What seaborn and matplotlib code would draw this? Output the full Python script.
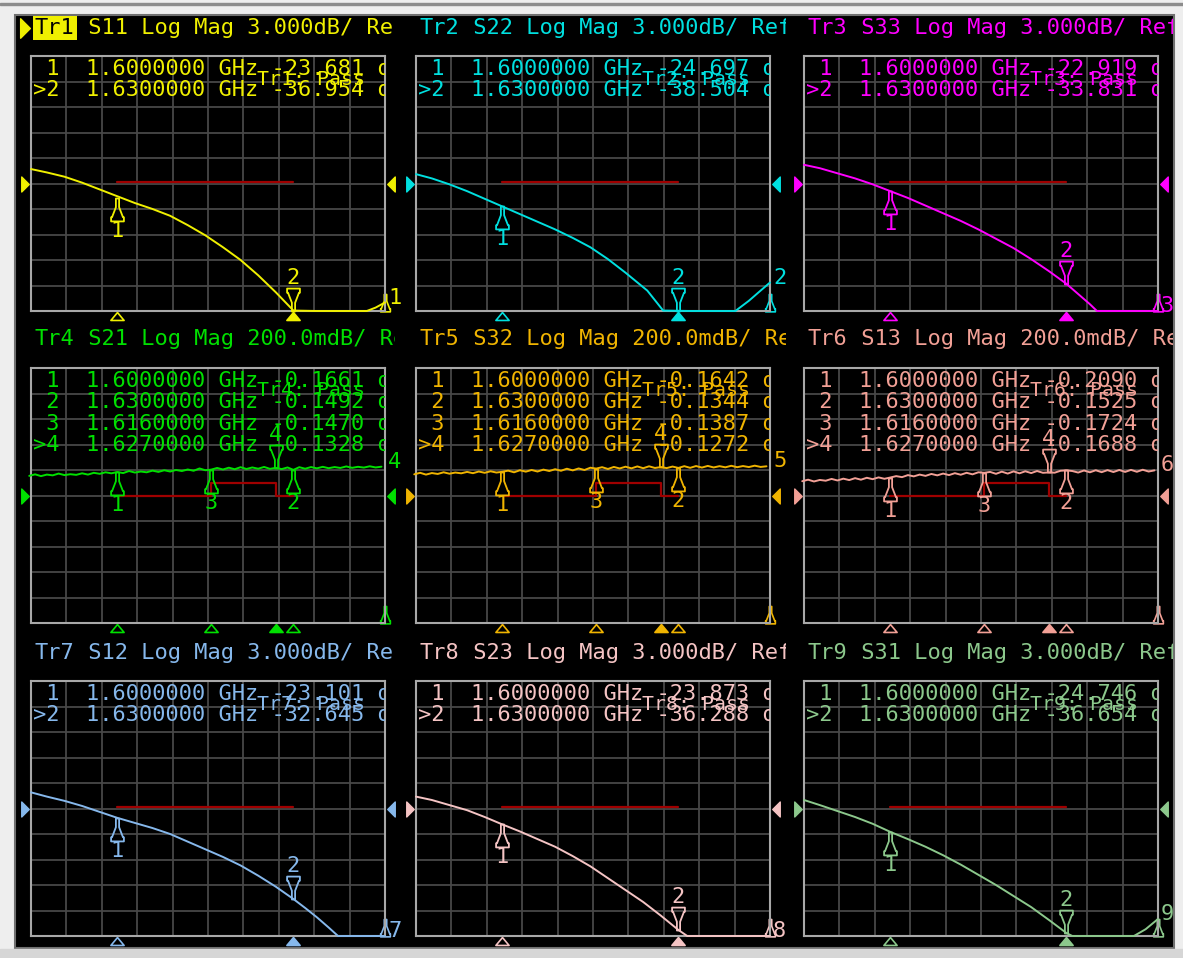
import numpy as np
import pandas as pd
import matplotlib.pyplot as plt
import seaborn as sns
import matplotlib.transforms as mtransforms
from matplotlib.path import Path
from matplotlib.patches import Rectangle

# ---------------- data ----------------
freq_start, freq_stop = 1585.3, 1645.6  # MHz, sweep shown on every panel

trace_ids = ["Tr1", "Tr2", "Tr3", "Tr4", "Tr5", "Tr6", "Tr7", "Tr8", "Tr9"]
s_params = ["S11", "S22", "S33", "S21", "S32", "S13", "S12", "S23", "S31"]
scale_text = ["3.000dB/", "3.000dB/", "3.000dB/",
              "200.0mdB/", "200.0mdB/", "200.0mdB/",
              "3.000dB/", "3.000dB/", "3.000dB/"]
ref_db = [-22, -22, -22, -0.35, -0.35, -0.35, -22, -22, -22]
div_db = [3, 3, 3, 0.2, 0.2, 0.2, 3, 3, 3]
trace_colors = ["#f0f000", "#00e0e0", "#ff00ff", "#00e000", "#f0b400",
                "#f2a096", "#86b8ec", "#f5c4c4", "#8cc88c"]

# return loss traces (MHz, dB)
s11_f = [1585.3, 1588, 1591, 1594, 1597, 1600, 1603, 1606, 1609, 1612, 1615, 1618,
         1621, 1624, 1627, 1630, 1634, 1638, 1642.5, 1644, 1645.6]
s11_db = [-20.3, -20.7, -21.2, -21.9, -22.7, -23.5, -24.3, -25.0, -25.8, -26.9, -28.1,
          -29.5, -31.0, -32.8, -34.8, -36.95, -37.0, -37.0, -37.0, -36.6, -36.0]
s22_f = [1585.3, 1588, 1591, 1594, 1597, 1600, 1603, 1606, 1609, 1612, 1615, 1618,
         1621, 1624.7, 1627.4, 1632, 1636, 1639.7, 1642, 1644, 1645.6]
s22_db = [-20.9, -21.4, -22.1, -22.9, -23.8, -24.7, -25.6, -26.5, -27.4, -28.4, -29.5,
          -30.9, -32.5, -34.6, -36.95, -37.0, -37.0, -37.0, -35.8, -34.6, -33.65]
s33_f = [1585.3, 1588, 1591, 1594, 1597, 1600, 1603, 1606, 1609, 1612, 1615, 1618,
         1621, 1624, 1627, 1630, 1632, 1634, 1635.2, 1640, 1645.6]
s33_db = [-19.8, -20.2, -20.8, -21.4, -22.1, -22.9, -23.7, -24.6, -25.5, -26.4, -27.4,
          -28.5, -29.6, -30.9, -32.3, -33.8, -35.0, -36.2, -37.0, -37.0, -37.0]

# insertion loss traces, 1 MHz points
noisy_f = np.arange(1585, 1646)
s21_db = [-0.196, -0.184, -0.198, -0.186, -0.192, -0.178, -0.190, -0.183, -0.188, -0.176,
          -0.186, -0.172, -0.180, -0.168, -0.176, -0.166, -0.174, -0.158, -0.170, -0.162,
          -0.168, -0.155, -0.165, -0.152, -0.162, -0.150, -0.158, -0.146, -0.156, -0.138,
          -0.152, -0.147, -0.134, -0.146, -0.132, -0.144, -0.128, -0.142, -0.130, -0.140,
          -0.126, -0.141, -0.133, -0.143, -0.130, -0.149, -0.128, -0.140, -0.127, -0.137,
          -0.125, -0.136, -0.127, -0.134, -0.122, -0.133, -0.125, -0.131, -0.121, -0.130, -0.124]
s32_db = [-0.184, -0.172, -0.186, -0.174, -0.181, -0.168, -0.179, -0.170, -0.176, -0.165,
          -0.175, -0.162, -0.172, -0.160, -0.170, -0.164, -0.155, -0.168, -0.152, -0.163,
          -0.150, -0.162, -0.147, -0.158, -0.144, -0.156, -0.140, -0.153, -0.138, -0.150,
          -0.132, -0.139, -0.128, -0.142, -0.126, -0.138, -0.124, -0.137, -0.122, -0.136,
          -0.121, -0.134, -0.127, -0.135, -0.123, -0.134, -0.120, -0.133, -0.119, -0.131,
          -0.118, -0.130, -0.120, -0.129, -0.117, -0.128, -0.119, -0.127, -0.116, -0.126, -0.121]
s13_db = [-0.238, -0.226, -0.240, -0.228, -0.234, -0.220, -0.232, -0.218, -0.229, -0.214,
          -0.226, -0.211, -0.222, -0.208, -0.219, -0.209, -0.198, -0.206, -0.190, -0.200,
          -0.186, -0.196, -0.181, -0.192, -0.178, -0.190, -0.175, -0.187, -0.172, -0.184,
          -0.168, -0.172, -0.165, -0.180, -0.163, -0.178, -0.161, -0.176, -0.160, -0.174,
          -0.158, -0.172, -0.169, -0.171, -0.156, -0.153, -0.158, -0.170, -0.154, -0.168,
          -0.152, -0.167, -0.151, -0.166, -0.150, -0.165, -0.149, -0.164, -0.148, -0.162, -0.153]

# isolation-like traces (MHz, dB)
s12_f = [1585.3, 1588, 1591, 1594, 1597, 1600, 1603, 1606, 1609, 1612, 1615, 1618,
         1621, 1624, 1627, 1630, 1632, 1634, 1636, 1637.6, 1641, 1645.6]
s12_db = [-20.1, -20.6, -21.1, -21.7, -22.4, -23.1, -23.7, -24.3, -25.0, -25.9, -26.8,
          -27.7, -28.7, -29.9, -31.2, -32.65, -33.7, -34.8, -36.0, -37.0, -37.0, -37.0]
s23_f = [1585.3, 1588, 1591, 1594, 1597, 1600, 1603, 1606, 1609, 1612, 1615, 1618,
         1621, 1624, 1627, 1630, 1631.5, 1635, 1640, 1645.6]
s23_db = [-20.6, -21.0, -21.6, -22.2, -23.0, -23.87, -24.7, -25.6, -26.5, -27.6, -28.8,
          -30.2, -31.6, -33.0, -34.6, -36.29, -37.0, -37.0, -37.0, -37.0]
s31_f = [1585.3, 1588, 1591, 1594, 1597, 1600, 1603, 1606, 1609, 1612, 1615, 1618,
         1621, 1624, 1627, 1630, 1631, 1636, 1641.5, 1643.5, 1645.6]
s31_db = [-21.0, -21.6, -22.3, -23.0, -23.8, -24.75, -25.6, -26.5, -27.5, -28.6, -29.8,
          -31.0, -32.3, -33.6, -35.1, -36.65, -37.0, -37.0, -37.0, -36.2, -35.0]

trace_freqs = [s11_f, s22_f, s33_f, noisy_f, noisy_f, noisy_f, s12_f, s23_f, s31_f]
trace_vals = [s11_db, s22_db, s33_db, s21_db, s32_db, s13_db, s12_db, s23_db, s31_db]

# markers
marker_f_2 = [1600.0, 1630.0]
marker_f_4 = [1600.0, 1630.0, 1616.0, 1627.0]
marker_vals = [
    [-23.681, -36.954], [-24.697, -38.504], [-22.919, -33.831],
    [-0.1661, -0.1492, -0.1470, -0.1328], [-0.1642, -0.1344, -0.1387, -0.1272],
    [-0.2090, -0.1525, -0.1724, -0.1688],
    [-23.101, -32.645], [-23.873, -36.288], [-24.746, -36.654],
]

# limit lines
limit_f_log = [1600, 1630]
limit_db_log = [-21.8, -21.8]
limit_f_ins = [1600, 1616, 1616, 1627, 1627, 1630]
limit_db_ins = [-0.35, -0.35, -0.25, -0.25, -0.35, -0.35]

# ---------------- layout ----------------
W, H = 1183, 958
sns.set_theme(style="dark", rc={"axes.facecolor": "black", "figure.facecolor": "#eeeeee"})
plt.rcParams["font.family"] = ["DejaVu Sans Mono", "DejaVu Sans"]
FS = 15.8
CW = 13.2  # px per character

fig = plt.figure(figsize=(W / 100, H / 100), dpi=100)
px_tr = mtransforms.Affine2D().scale(1 / W, -1 / H).translate(0, 1) + fig.transFigure

fig.patches.append(Rectangle((0, 3), W, 2, transform=px_tr, color="#8c8c8c", zorder=-10))
fig.patches.append(Rectangle((15, 15), 1159, 933, transform=px_tr, facecolor="black",
                             edgecolor="#707070", lw=1.5, zorder=-10))
fig.patches.append(Rectangle((0, 949), W, 9, transform=px_tr, color="#d6d6d6", zorder=-10))

col_left = [31, 416, 804]
row_top = [56, 368, 681]
title_y = [28, 339, 653]
panel_w, panel_h = 354, 255
col_clip = [(16, 395), (400, 786), (788, 1173)]

up_glyph = Path([(0, 0), (-0.07, 0), (-0.07, -0.38), (-0.24, -0.82), (-0.28, -0.82),
                 (-0.28, -1), (0.28, -1), (0.28, -0.82), (0.24, -0.82), (0.07, -0.38),
                 (0.07, 0), (0, 0)], closed=True)
down_glyph = Path(up_glyph.vertices * [1, -1], up_glyph.codes)
flat_tri = Path([(-1, -0.6), (1, -0.6), (0, 0.6), (-1, -0.6)], closed=True)
right_tri = Path([(-0.5, -1), (0.5, 0), (-0.5, 1), (-0.5, -1)], closed=True)
left_tri = Path([(0.5, -1), (-0.5, 0), (0.5, 1), (0.5, -1)], closed=True)

# column axes used only to clip the channel titles
title_axes = []
for x0, x1 in col_clip:
    tax = fig.add_axes([x0 / W, 1 - 948 / H, (x1 - x0) / W, 933 / H], zorder=5)
    tax.set_axis_off()
    title_axes.append(tax)

for i in range(9):
    r, c = divmod(i, 3)
    color = trace_colors[i]
    left, top = col_left[c], row_top[r]
    ax = fig.add_axes([left / W, 1 - (top + panel_h) / H, panel_w / W, panel_h / H])
    bottom_db = ref_db[i] - 5 * div_db[i]
    top_db = ref_db[i] + 5 * div_db[i]
    ax.set_xlim(freq_start, freq_stop)
    ax.set_ylim(bottom_db, top_db)
    ax.set_xticks(np.linspace(freq_start, freq_stop, 11))
    ax.set_yticks(np.linspace(bottom_db, top_db, 11))
    ax.grid(True, color="#484848", lw=1.3)
    ax.tick_params(length=0, labelbottom=False, labelleft=False)
    for sp in ax.spines.values():
        sp.set_color("#a8a8a8")
        sp.set_linewidth(1.5)

    # limit line
    if r == 1:
        lim = pd.DataFrame({"f": limit_f_ins, "db": limit_db_ins})
    else:
        lim = pd.DataFrame({"f": limit_f_log, "db": limit_db_log})
    sns.lineplot(data=lim, x="f", y="db", ax=ax, color="#a00000", lw=1.6,
                 estimator=None, sort=False)

    # trace (drawn over the frame so the clipped part along the bottom stays visible)
    df = pd.DataFrame({"freq": trace_freqs[i], "db": trace_vals[i]})
    sns.lineplot(data=df, x="freq", y="db", ax=ax, color=color, lw=1.4,
                 estimator=None, sort=False, zorder=3, clip_on=False)
    ax.set_xlabel("")
    ax.set_ylabel("")

    # markers
    mfreqs = marker_f_4 if r == 1 else marker_f_2
    mvals = marker_vals[i]
    n = len(mvals)
    dec = 4 if r == 1 else 3
    blend = mtransforms.blended_transform_factory(ax.transData, ax.transAxes)
    for k, (mf, mv) in enumerate(zip(mfreqs, mvals)):
        active = k == n - 1
        yv = max(mv, bottom_db)
        glyph = down_glyph if active else up_glyph
        ax.plot([mf], [yv], marker=glyph, ms=33, mfc="none", mec=color, mew=1.3,
                ls="none", clip_on=False, zorder=4)
        ax.annotate(str(k + 1), (mf, yv), xytext=(0, 33 if active else -33),
                    textcoords="offset pixels", ha="center", va="center",
                    color=color, fontsize=FS, annotation_clip=False)
        ax.plot([mf], [-5 / panel_h], marker=flat_tri, ms=9.5, transform=blend,
                mfc=color if active else "none", mec=color, mew=1.2, ls="none",
                clip_on=False)
        line = f"{'>' if active else ' '}{k + 1}  {mf / 1000:.7f} GHz {mv:.{dec}f} dB"
        ax.text(2 / panel_w, 1 - (13 + k * 21.3) / panel_h, line, transform=ax.transAxes,
                color=color, fontsize=FS, va="center", ha="left", clip_on=True)
    ax.text(226 / panel_w, 1 - 23 / panel_h, f"{trace_ids[i]}: Pass", transform=ax.transAxes,
            color=color, fontsize=FS - 1.5, va="center", ha="left", clip_on=True)

    # reference position arrows
    ref_blend = mtransforms.blended_transform_factory(ax.transAxes, ax.transData)
    ax.plot([-6 / panel_w], [ref_db[i]], marker=right_tri, ms=10.8, color=color,
            transform=ref_blend, clip_on=False, ls="none")
    ax.plot([1 + 6 / panel_w], [ref_db[i]], marker=left_tri, ms=10.8, color=color,
            transform=ref_blend, clip_on=False, ls="none")

    # trace number at the end of the sweep and stop pointer
    ax.annotate(str(i + 1), (freq_stop, trace_vals[i][-1]), xytext=(3, 5),
                textcoords="offset pixels", ha="left", va="center", color=color,
                fontsize=FS, annotation_clip=False)
    ax.plot([1.0], [17 / panel_h], marker=up_glyph, ms=25, mfc="none", mec=color,
            mew=1.2, transform=ax.transAxes, clip_on=False, ls="none")

    # channel title
    tax = title_axes[c]
    tx = left + 4
    ty = title_y[r]
    if i == 0:
        tax.text(tx, ty, trace_ids[i], transform=px_tr, color="black", fontsize=FS,
                 va="center", ha="left", clip_on=True,
                 bbox=dict(boxstyle="square,pad=0.08", fc=color, ec="none"))
        tax.plot([25], [ty], marker=right_tri, ms=14, color=color, transform=px_tr,
                 ls="none", clip_on=False)
    else:
        tax.text(tx, ty, trace_ids[i], transform=px_tr, color=color, fontsize=FS,
                 va="center", ha="left", clip_on=True)
    tax.text(tx + 3 * CW, ty, f" {s_params[i]} Log Mag {scale_text[i]} Ref {ref_db[i]:.2f}dB",
             transform=px_tr, color=color, fontsize=FS, va="center", ha="left", clip_on=True)

fig.savefig("out.png", dpi=100, facecolor=fig.get_facecolor())
